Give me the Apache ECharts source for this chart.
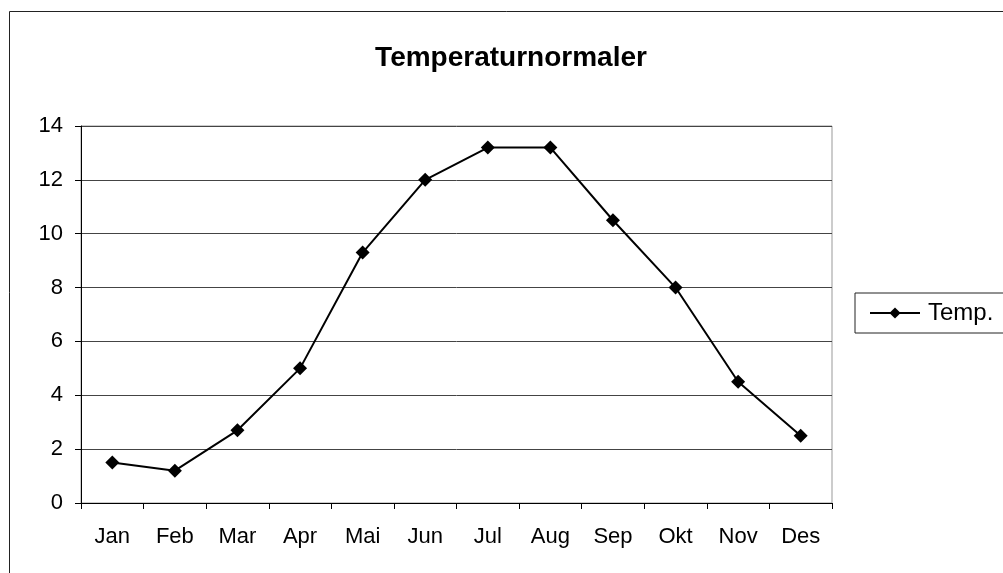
<!DOCTYPE html>
<html>
<head>
<meta charset="utf-8">
<title>Temperaturnormaler</title>
<script src="https://cdn.jsdelivr.net/npm/echarts@6/dist/echarts.min.js"></script>
<style>
  html, body { margin: 0; padding: 0; background: #fff; }
  #main { width: 1003px; height: 573px; }
</style>
</head>
<body>
<div id="main"></div>
<script>
var months = ['Jan', 'Feb', 'Mar', 'Apr', 'Mai', 'Jun', 'Jul', 'Aug', 'Sep', 'Okt', 'Nov', 'Des'];
var temps = [1.5, 1.2, 2.7, 5.0, 9.3, 12.0, 13.2, 13.2, 10.5, 8.0, 4.5, 2.5];
var seriesName = 'Temp.';

var myChart = echarts.init(document.getElementById('main'));

var option = {
    animation: false,
    textStyle: { fontFamily: 'Liberation Sans, Arial, sans-serif', color: '#000' },
    title: {
        text: 'Temperaturnormaler',
        left: 506,
        top: 39,
        textAlign: 'center',
        textStyle: { fontSize: 28, fontWeight: 'bold', color: '#000' }
    },
    graphic: [{
        type: 'rect',
        shape: { x: 9.5, y: 11.5, width: 1010, height: 600 },
        style: { fill: null, stroke: '#222', lineWidth: 1 },
        silent: true
    }],
    legend: {
        left: 855,
        top: 293,
        data: [seriesName],
        itemWidth: 50,
        itemHeight: 14,
        padding: [8, 20, 8, 14],
        borderColor: '#222',
        borderWidth: 1,
        textStyle: { fontSize: 24, color: '#000', padding: [0, 0, 0, 3] }
    },
    grid: {
        left: 81,
        right: 171,
        top: 126,
        bottom: 70,
        show: true,
        borderColor: '#999',
        borderWidth: 1,
        containLabel: false
    },
    xAxis: {
        type: 'category',
        data: months,
        boundaryGap: true,
        axisLine: { lineStyle: { color: '#000', width: 1 } },
        axisTick: { show: true, inside: false, length: 6, alignWithLabel: false, lineStyle: { color: '#000' } },
        axisLabel: { fontSize: 22, color: '#000', margin: 23 },
        splitLine: { show: false }
    },
    yAxis: {
        type: 'value',
        min: 0,
        max: 14,
        interval: 2,
        axisLine: { show: true, lineStyle: { color: '#000', width: 1 } },
        axisTick: { show: true, inside: false, length: 6, lineStyle: { color: '#000' } },
        axisLabel: { fontSize: 22, color: '#000', margin: 18 },
        splitLine: { show: true, lineStyle: { color: '#444', width: 1 } }
    },
    series: [{
        name: seriesName,
        type: 'line',
        data: temps,
        symbol: 'diamond',
        symbolSize: 14,
        color: '#000',
        lineStyle: { color: '#000', width: 2 },
        itemStyle: { color: '#000' }
    }]
};

myChart.setOption(option);
</script>
</body>
</html>
